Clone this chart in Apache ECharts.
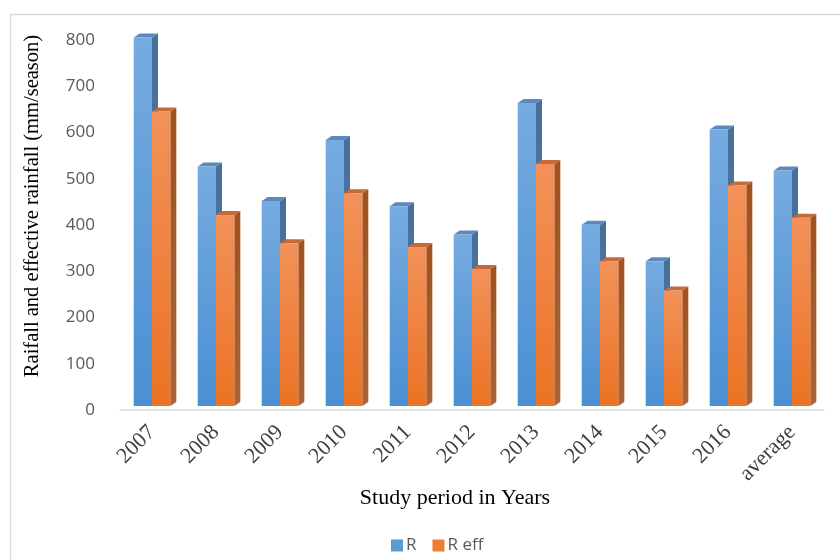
<!DOCTYPE html>
<html>
<head>
<meta charset="utf-8">
<script src="https://cdn.jsdelivr.net/npm/echarts@6/dist/echarts.min.js"></script>
<style>
  html, body { margin: 0; padding: 0; background: #ffffff; }
  #chart { width: 840px; height: 560px; }
</style>
</head>
<body>
<div id="chart"></div>
<script>
// Seasonal rainfall (R) and effective rainfall (R eff), mm/season
const categories = ['2007', '2008', '2009', '2010', '2011', '2012', '2013', '2014', '2015', '2016', 'average'];
const rainfall = [797, 518, 443, 575, 432, 371, 655, 392, 313, 598, 509];
const effectiveRainfall = [637, 413, 352, 460, 344, 296, 523, 313, 250, 477, 407];
const yTicks = [0, 100, 200, 300, 400, 500, 600, 700, 800];

// 3D column look: pixel depth of the side/top faces
const DEPTH_X = 6;
const DEPTH_Y = 4;
const BAR_FRAC = 0.286;

const palettes = [
  { legend: '#5b9bd5', frontTop: '#76abe0', frontBottom: '#4a90d3', side: '#45709c', top: '#5b89be' },
  { legend: '#ed7d31', frontTop: '#f2925a', frontBottom: '#ec7224', side: '#a0521f', top: '#c7693a' }
];

function makeRenderer(seriesIndex) {
  const pal = palettes[seriesIndex];
  return function (params, api) {
    const cat = api.value(0);
    const val = api.value(1);
    const base = api.coord([cat, 0]);
    const peak = api.coord([cat, val]);
    const band = api.size([1, 0])[0];
    const w = band * BAR_FRAC;
    const x0 = seriesIndex === 0 ? base[0] - w : base[0];
    const x1 = x0 + w;
    const yb = base[1] - DEPTH_Y;
    const yt = peak[1] - DEPTH_Y;
    return {
      type: 'group',
      children: [
        {
          type: 'polygon',
          shape: { points: [[x1, yt], [x1 + DEPTH_X, yt - DEPTH_Y], [x1 + DEPTH_X, yb - DEPTH_Y], [x1, yb]] },
          style: { fill: new echarts.graphic.LinearGradient(0, 0, 0, 1, [
            { offset: 0, color: pal.side }, { offset: 1, color: echarts.color.lift(pal.side, 0.1) }
          ]) }
        },
        {
          type: 'polygon',
          shape: { points: [[x0, yt], [x0 + DEPTH_X, yt - DEPTH_Y], [x1 + DEPTH_X, yt - DEPTH_Y], [x1, yt]] },
          style: { fill: pal.top }
        },
        {
          type: 'rect',
          shape: { x: x0, y: yt, width: w, height: yb - yt },
          style: { fill: new echarts.graphic.LinearGradient(0, 0, 0, 1, [
            { offset: 0, color: pal.frontTop }, { offset: 1, color: pal.frontBottom }
          ]) }
        }
      ]
    };
  };
}

const chart = echarts.init(document.getElementById('chart'), null, { renderer: 'canvas' });

chart.setOption({
  backgroundColor: '#ffffff',
  animation: false,
  grid: { left: 120, top: 40, width: 704, height: 370 },
  legend: {
    left: 386, top: 532,
    icon: 'rect', itemWidth: 12, itemHeight: 12, itemGap: 16,
    textStyle: { fontFamily: 'Open Sans', fontSize: 17, color: '#595959', padding: [0, 0, 0, -2] },
    data: ['R', 'R eff']
  },
  xAxis: {
    type: 'category',
    data: categories,
    axisLine: { lineStyle: { color: '#d9d9d9', width: 1.5 } },
    axisTick: { show: false },
    axisLabel: {
      rotate: 45, interval: 0, margin: 19,
      fontFamily: 'Liberation Serif', fontSize: 22, color: '#404040'
    }
  },
  yAxis: {
    type: 'value',
    min: yTicks[0], max: yTicks[yTicks.length - 1], interval: 100,
    axisLine: { show: false },
    axisTick: { show: false },
    splitLine: { show: false },
    axisLabel: { margin: 25, fontFamily: 'Open Sans', fontSize: 17, color: '#595959' }
  },
  series: [
    {
      name: 'R', type: 'custom',
      itemStyle: { color: palettes[0].legend },
      renderItem: makeRenderer(0),
      encode: { x: 0, y: 1 },
      data: rainfall.map((v, i) => [i, v])
    },
    {
      name: 'R eff', type: 'custom',
      itemStyle: { color: palettes[1].legend },
      renderItem: makeRenderer(1),
      encode: { x: 0, y: 1 },
      data: effectiveRainfall.map((v, i) => [i, v])
    }
  ],
  graphic: [
    {
      type: 'rect', silent: true,
      shape: { x: 10.5, y: 14.5, width: 900, height: 600 },
      style: { fill: 'none', stroke: '#d9d9d9', lineWidth: 1.5 }
    },
    {
      type: 'text', x: 33, y: 206, rotation: Math.PI / 2,
      style: {
        text: 'Raifall and effective rainfall (mm/season)',
        fontFamily: 'Liberation Serif', fontSize: 20.5, fill: '#000000',
        align: 'center', verticalAlign: 'middle'
      }
    },
    {
      type: 'text', x: 455, y: 498,
      style: {
        text: 'Study period in Years',
        fontFamily: 'Liberation Serif', fontSize: 22, fill: '#000000',
        align: 'center', verticalAlign: 'middle'
      }
    }
  ]
});
</script>
</body>
</html>
